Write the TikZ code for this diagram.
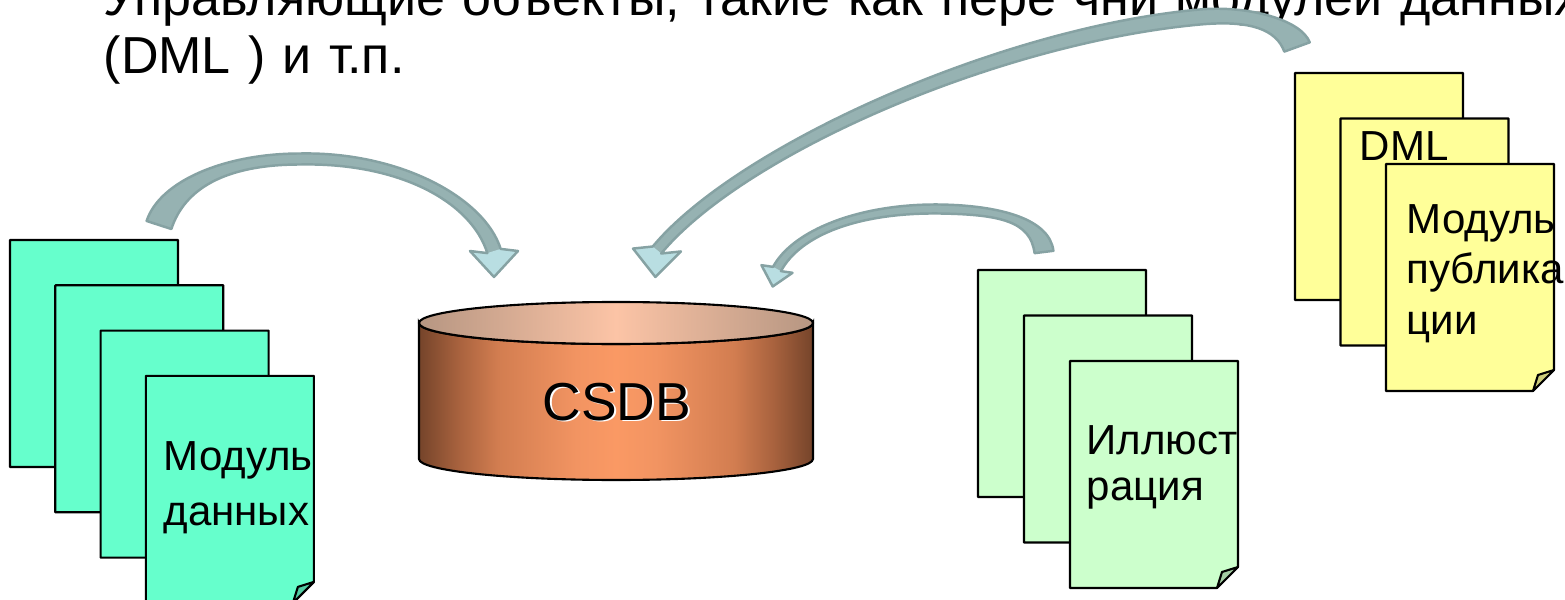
\documentclass[tikz,border=0pt]{standalone}
\usepackage{fontspec}
\setmainfont{Liberation Sans}
\usetikzlibrary{calc}

\definecolor{dmcyan}{RGB}{102,255,204}
\definecolor{illgreen}{RGB}{204,255,204}
\definecolor{pmyellow}{RGB}{255,255,153}
\definecolor{cbdark}{RGB}{117,68,42}
\definecolor{cbedge}{RGB}{168,98,62}
\definecolor{cbmid}{RGB}{210,125,80}
\definecolor{cbnear}{RGB}{242,148,98}
\definecolor{cblight}{RGB}{250,153,100}
\definecolor{ctdark}{RGB}{182,150,130}
\definecolor{ctlight}{RGB}{252,196,166}
\definecolor{arrfill}{RGB}{150,178,178}
\definecolor{arrline}{RGB}{134,162,163}
\definecolor{arrtip}{RGB}{185,222,226}

\pgfdeclarehorizontalshading{csdbside}{100bp}{color(0bp)=(cbdark); color(25bp)=(cbdark);
  color(30bp)=(cbedge); color(35bp)=(cbmid); color(45bp)=(cbnear); color(50bp)=(cblight);
  color(55bp)=(cbnear); color(65bp)=(cbmid); color(70bp)=(cbedge); color(75bp)=(cbdark);
  color(100bp)=(cbdark)}
\pgfdeclarehorizontalshading{csdbtop}{100bp}{color(0bp)=(ctdark); color(25bp)=(ctdark);
  color(50bp)=(ctlight); color(75bp)=(ctdark); color(100bp)=(ctdark)}

% one sheet of a stack: top left corner, fill colour
\newcommand{\docpage}[3]{%
  \filldraw[docline, fill=#3] (#1,#2) -- ++(168,0) -- ++(0,206) -- ++(-21,21)
     -- ++(-147,0) -- cycle;
  \filldraw[docline, fill=#3!80!black] (#1+168,#2+206) -- (#1+152,#2+211)
     -- (#1+147,#2+227) -- cycle;
}

% curved block arrow: name, half widths (tail, middle, shaft at head, head), head length
\newcommand{\bentarrow}[6]{%
  \path
    ($(#1-t)!#2!90:(#1-a1)$)   coordinate (#1-tL)
    ($(#1-t)!#2!-90:(#1-a1)$)  coordinate (#1-tR)
    ($(#1-a1)!#2!-90:(#1-t)$)  coordinate (#1-a1L)
    ($(#1-a1)!#2!90:(#1-t)$)   coordinate (#1-a1R)
    ($(#1-a2)!#3!90:(#1-m)$)   coordinate (#1-a2L)
    ($(#1-a2)!#3!-90:(#1-m)$)  coordinate (#1-a2R)
    ($(#1-m)!#3!-90:(#1-a2)$)  coordinate (#1-mL)
    ($(#1-m)!#3!90:(#1-a2)$)   coordinate (#1-mR)
    ($(#1-b1)!#3!-90:(#1-m)$)  coordinate (#1-b1L)
    ($(#1-b1)!#3!90:(#1-m)$)   coordinate (#1-b1R)
    ($(#1-b2)!#4!90:(#1-h)$)   coordinate (#1-b2L)
    ($(#1-b2)!#4!-90:(#1-h)$)  coordinate (#1-b2R)
    ($(#1-h)!#4!-90:(#1-b2)$)  coordinate (#1-hL)
    ($(#1-h)!#4!90:(#1-b2)$)   coordinate (#1-hR)
    ($(#1-h)!#5!-90:(#1-d)$)   coordinate (#1-wL)
    ($(#1-h)!#5!90:(#1-d)$)    coordinate (#1-wR)
    ($(#1-h)!#6!180:(#1-d)$)   coordinate (#1-tip);
  \fill[arrfill] (#1-tL) .. controls (#1-a1L) and (#1-a2L) .. (#1-mL)
     .. controls (#1-b1L) and (#1-b2L) .. (#1-hL) -- (#1-wL) -- (#1-tip)
     -- (#1-wR) -- (#1-hR) .. controls (#1-b2R) and (#1-b1R) .. (#1-mR)
     .. controls (#1-a2R) and (#1-a1R) .. (#1-tR) -- cycle;
  \fill[arrtip] (#1-hL) -- (#1-wL) -- (#1-tip) -- (#1-wR) -- (#1-hR) -- cycle;
  \draw[arrstroke] (#1-tL) .. controls (#1-a1L) and (#1-a2L) .. (#1-mL)
     .. controls (#1-b1L) and (#1-b2L) .. (#1-hL) -- (#1-wL) -- (#1-tip)
     -- (#1-wR) -- (#1-hR) .. controls (#1-b2R) and (#1-b1R) .. (#1-mR)
     .. controls (#1-a2R) and (#1-a1R) .. (#1-tR) -- cycle;
}

\begin{document}
\begin{tikzpicture}[x=0.01cm,y=-0.01cm,
    docline/.style={draw=black, line width=0.6pt, line join=round},
    arrstroke/.style={draw=arrline, line width=0.7pt, line join=round},
    heading/.style={font=\fontsize{14.8}{16.5}\selectfont, anchor=base west,
                    inner sep=0pt, text width=20cm, align=left},
    pagetext/.style={font=\fontsize{11.95}{15.65}\selectfont, anchor=base west,
                     inner sep=0pt, text width=4cm, align=left}]

  \useasboundingbox (0,0) rectangle (1565,600);
  \clip (0,0) rectangle (1565,600);

  % heading, cut by the top of the slide
  \node[heading] (title) at (103,15)
       {Управляющие объекты, такие как пере чни модулей данных\\(DML ) и т.п.};

  % stack of data modules
  \foreach \i in {0,...,3}
  {
    \docpage{10+45.3*\i}{240+45.3*\i}{dmcyan}
  }
  \node[pagetext] (dmtext) at (163,470) {Модуль\\данных};

  % CSDB
  \shade[shading=csdbside, draw=black, line width=0.6pt]
       (419,323) -- (419,459) arc[start angle=180, end angle=0, x radius=197, y radius=21]
       -- (813,323) arc[start angle=0, end angle=180, x radius=197, y radius=21] -- cycle;
  \shade[shading=csdbtop, draw=black, line width=0.6pt]
       (616,323) ellipse [x radius=197, y radius=21];
  \node[font=\fontsize{15.2}{18}\selectfont, anchor=base, inner sep=0pt] (csdb) at (617,420)
       {\rlap{\kern0.5pt\raisebox{-0.5pt}{\color{white}CSDB}}CSDB};

  % stack of illustrations
  \foreach \i in {0,1,2}
  {
    \docpage{978+46*\i}{270+45.5*\i}{illgreen}
  }
  \node[pagetext, font=\fontsize{11.95}{13.2}\selectfont] (illtext) at (1086,454)
       {Иллюст\\рация};

  % DML and publication module
  \foreach \i in {0,1,2}
  {
    \docpage{1295+45.5*\i}{73+45.5*\i}{pmyellow}
  }
  \node[pagetext] (dmltext) at (1359,160) {DML};
  \node[pagetext, font=\fontsize{11.95}{14.5}\selectfont] (pmtext) at (1406,233)
       {Модуль\\публика\\ции};

  % data modules -> CSDB
  \coordinate (dm-t)  at (159,225);
  \coordinate (dm-a1) at (172,185);
  \coordinate (dm-a2) at (225,159);
  \coordinate (dm-m)  at (300,159);
  \coordinate (dm-b1) at (400,157);
  \coordinate (dm-b2) at (478,200);
  \coordinate (dm-h)  at (494,251);
  \coordinate (dm-d)  at (494,200);
  \bentarrow{dm}{0.13cm}{0.055cm}{0.07cm}{0.24cm}{0.26cm}

  % DML -> CSDB
  \coordinate (dml-t)  at (1297,47);
  \coordinate (dml-a1) at (1289,25);
  \coordinate (dml-a2) at (1250,12.5);
  \coordinate (dml-m)  at (1200,17);
  \coordinate (dml-b1) at (1000,35);
  \coordinate (dml-b2) at (740,150);
  \coordinate (dml-h)  at (657,250);
  \coordinate (dml-d)  at (660,200);
  \bentarrow{dml}{0.135cm}{0.075cm}{0.055cm}{0.24cm}{0.27cm}

  % illustrations -> CSDB
  \coordinate (ill-t)  at (1044,252);
  \coordinate (ill-a1) at (1040,220);
  \coordinate (ill-a2) at (1000,210);
  \coordinate (ill-m)  at (940,209);
  \coordinate (ill-b1) at (860,208);
  \coordinate (ill-b2) at (797,232);
  \coordinate (ill-h)  at (777,269);
  \coordinate (ill-d)  at (789,220);
  \bentarrow{ill}{0.095cm}{0.045cm}{0.045cm}{0.16cm}{0.18cm}

\end{tikzpicture}
\end{document}
